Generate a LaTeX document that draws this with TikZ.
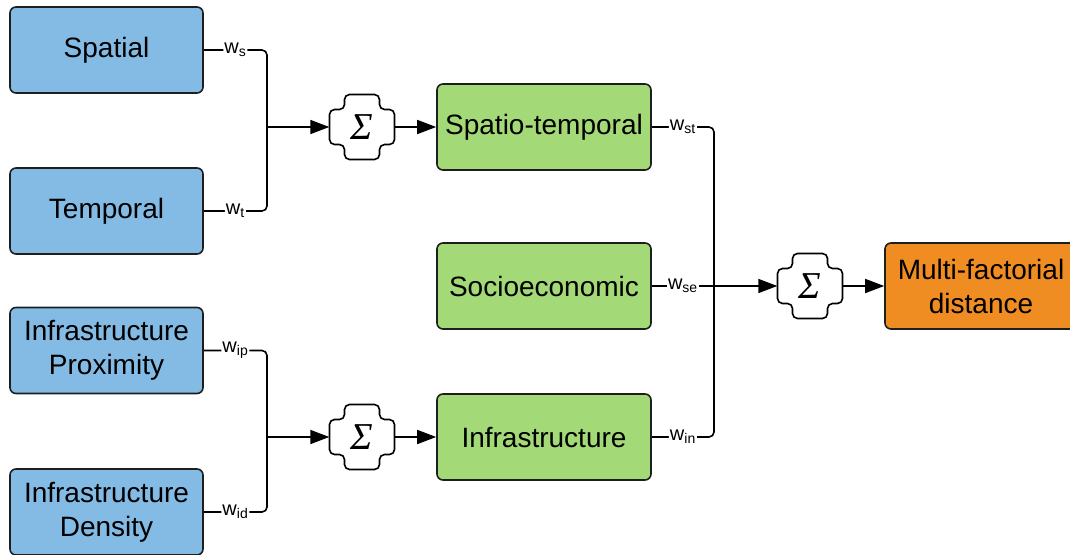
\documentclass[tikz,border=0pt]{standalone}
\usepackage{fontspec}
\setmainfont{Liberation Sans}
\newfontfamily\sigmafont{Liberation Serif}
\usetikzlibrary{arrows.meta}
\definecolor{boxblue}{HTML}{83BBE5}
\definecolor{boxgreen}{HTML}{A3D977}
\definecolor{boxorange}{HTML}{EF8D22}
\definecolor{edgegray}{HTML}{1E1E1E}
\tikzset{
  factor/.style={draw=edgegray,line width=1.6pt,rounded corners=6pt,minimum height=86pt,
    inner sep=0pt,align=center,font=\fontsize{28}{34}\selectfont},
  basic/.style={factor,fill=boxblue,minimum width=193pt},
  combo/.style={factor,fill=boxgreen,minimum width=214pt},
  final/.style={factor,fill=boxorange,minimum width=192pt},
  sumnode/.style={minimum size=65pt,inner sep=0pt,font=\sigmafont\itshape\fontsize{38}{38}\selectfont},
  sumframe/.style={line width=1.6pt,rounded corners=5pt},
  wire/.style={line width=1.6pt,rounded corners=5pt},
  wlab/.style={fill=white,inner sep=1pt,font=\fontsize{20}{20}\selectfont}
}
\begin{document}
\begin{tikzpicture}[>={Triangle[length=19pt,width=14pt]},x=1pt,y=-1pt]
  \clip[use as bounding box] (0,0) rectangle (1070,554);
  \node[basic] (spatial) at (106.5,50) {Spatial};
  \node[basic] (temporal) at (106.5,211) {Temporal};
  \node[basic] (proximity) at (106.5,350.5) {Infrastructure\\Proximity};
  \node[basic] (density) at (106.5,512) {Infrastructure\\Density};
  \node[combo] (spatiotemporal) at (544,127) {Spatio-temporal};
  \node[combo] (socio) at (544,286) {Socioeconomic};
  \node[combo] (infra) at (544,437) {Infrastructure};
  \node[final] (distance) at (981,286) {Multi-factorial\\distance};
  \node[sumnode] (sumst) at (362,127) {Σ};
  \node[sumnode] (suminf) at (362,437) {Σ};
  \node[sumnode] (sumall) at (810,286) {Σ};
  \foreach \s in {sumst,suminf,sumall}
    \draw[sumframe,shift={(\s.center)}]
      (0,-32.5) -- (17.5,-32.5) -- (17.5,-17.5) -- (32.5,-17.5) -- (32.5,17.5) -- (17.5,17.5)
      -- (17.5,32.5) -- (-17.5,32.5) -- (-17.5,17.5) -- (-32.5,17.5) -- (-32.5,-17.5)
      -- (-17.5,-17.5) -- (-17.5,-32.5) -- cycle;
  \coordinate (jst) at (267,127);
  \coordinate (jinf) at (267,437);
  \coordinate (jall) at (714,286);
  \draw[wire] (spatial.east) -- node[wlab]{w\textsubscript{s}} (spatial.east -| jst) -- (jst);
  \draw[wire] (temporal.east) -- node[wlab]{w\textsubscript{t}} (temporal.east -| jst) -- (jst);
  \draw[wire] (proximity.east) -- node[wlab]{w\textsubscript{ip}} (proximity.east -| jinf) -- (jinf);
  \draw[wire] (density.east) -- node[wlab]{w\textsubscript{id}} (density.east -| jinf) -- (jinf);
  \draw[wire] (spatiotemporal.east) -- node[wlab]{w\textsubscript{st}} (spatiotemporal.east -| jall) -- (jall);
  \draw[wire] (socio.east) -- node[wlab]{w\textsubscript{se}} (jall);
  \draw[wire] (infra.east) -- node[wlab]{w\textsubscript{in}} (infra.east -| jall) -- (jall);
  \draw[wire,->] (jst) -- (sumst);
  \draw[wire,->] (sumst) -- (spatiotemporal);
  \draw[wire,->] (jinf) -- (suminf);
  \draw[wire,->] (suminf) -- (infra);
  \draw[wire,->] (jall) -- (sumall);
  \draw[wire,->] (sumall) -- (distance);
\end{tikzpicture}
\end{document}
